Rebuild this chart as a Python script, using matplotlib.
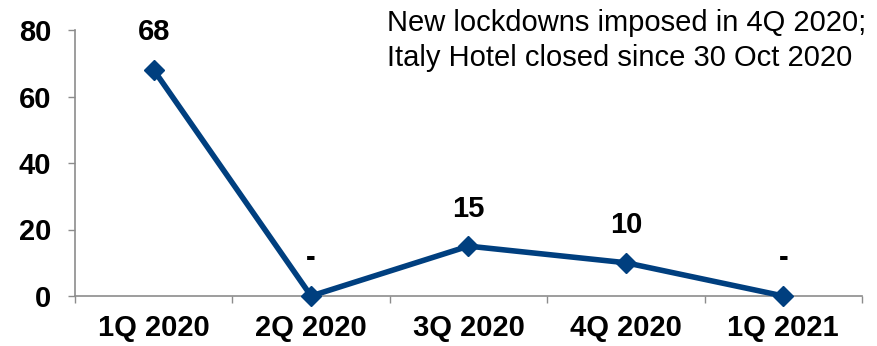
import matplotlib.pyplot as plt

plt.rcParams['font.family'] = ['Liberation Sans', 'DejaVu Sans']

# Quarterly series
quarters = ['1Q 2020', '2Q 2020', '3Q 2020', '4Q 2020', '1Q 2021']
values = [68, 0, 15, 10, 0]
labels = ['68', '-', '15', '10', '-']

LINE_COLOR = '#003f7f'
AXIS_COLOR = '#8c8c8c'

fig = plt.figure(figsize=(8.78, 3.46), dpi=100)
ax = fig.add_axes([75 / 878, 50 / 346, 787 / 878, 266 / 346])

x = list(range(len(quarters)))
ax.plot(x, values, color=LINE_COLOR, linewidth=4, marker='D',
        markersize=10, markerfacecolor=LINE_COLOR, markeredgecolor=LINE_COLOR,
        clip_on=False, zorder=3)

for xi, v, lab in zip(x, values, labels):
    ax.annotate(lab, (xi, v), xytext=(0, 27), textcoords='offset points',
                ha='center', va='center', fontsize=21, fontweight='bold')

ax.set_xlim(-0.5, len(quarters) - 0.5)
ax.set_ylim(0, 80)
ax.set_yticks([0, 20, 40, 60, 80])
ax.tick_params(axis='y', length=5, width=1, color=AXIS_COLOR, labelsize=21, pad=12)
for t in ax.get_yticklabels():
    t.set_fontweight('bold')

# category labels at centres, tick marks between categories
ax.set_xticks(x)
ax.set_xticklabels(quarters, fontsize=21, fontweight='bold')
ax.tick_params(axis='x', length=0, pad=13)
ax.set_xticks([i - 0.5 for i in range(len(quarters) + 1)], minor=True)
ax.tick_params(axis='x', which='minor', length=5, width=1, color=AXIS_COLOR)

for side in ['top', 'right']:
    ax.spines[side].set_visible(False)
for side in ['left', 'bottom']:
    ax.spines[side].set_color(AXIS_COLOR)
    ax.spines[side].set_linewidth(1.2)

fig.text(387 / 878, 1 - 9 / 346,
         'New lockdowns imposed in 4Q 2020;\nItaly Hotel closed since 30 Oct 2020',
         ha='left', va='top', fontsize=21, linespacing=1.3)

fig.savefig('out.png', dpi=100)
